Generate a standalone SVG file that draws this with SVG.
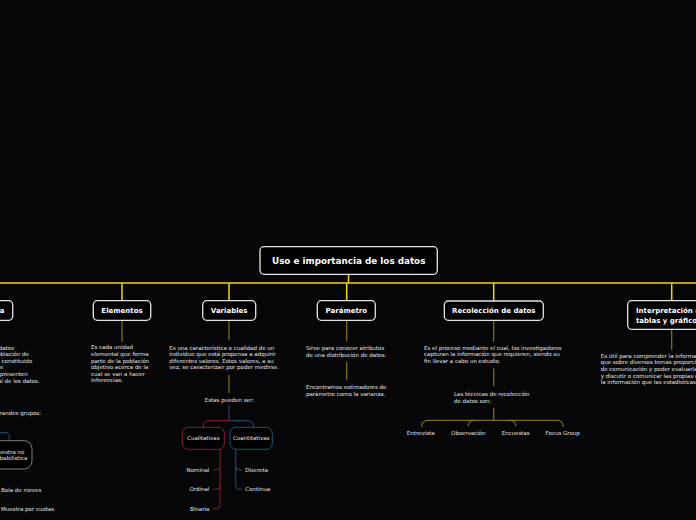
<svg xmlns="http://www.w3.org/2000/svg" width="696" height="520" viewBox="0 0 696 520">
<style>
.bg{fill:#060608}
.box{fill:#000;stroke:#e4e4e4;stroke-width:1.3}
.title{font-family:"DejaVu Sans",Verdana,sans-serif;font-weight:bold;fill:#fff;font-size:7px}
.t{font-family:"DejaVu Sans",Verdana,sans-serif;fill:#e6e6e6;font-size:5.5px}
.main{fill:none;stroke:#f2d40c;stroke-width:1.5}
.sec{fill:none;stroke:#87760f;stroke-width:1.2}
.red{fill:none;stroke:#8a1c30;stroke-width:1}
.blue{fill:none;stroke:#1f5577;stroke-width:1}
.c{text-anchor:middle}
.e{text-anchor:end}
</style>
<rect class="bg" x="0" y="0" width="696" height="520"/>
<g id="connectors">
<path class="main" d="M348.5 274.3 V283 M0 283 H696 M122 283 V300.7 M229 283 V300.7 M346.7 283 V300.7 M493.7 283 V301 M671.7 283 V300.7"/>
<path class="sec" d="M122 320.3 V342 M229 320.3 V340 M229 375 V393 M346.7 320.3 V341 M346.7 361.7 V380 M493.7 320.3 V341.7 M493.7 368.3 V386 M493.7 407.7 V420.3 M671.7 329.3 V350"/>
<path fill="none" stroke="#9a8612" stroke-width="1" d="M421.7 427 Q421.7 420.3 428 420.3 H557 Q563.3 420.3 563.3 427 M474.6 420.3 Q468.3 420.3 468.3 426 M509.4 420.3 Q515.7 420.3 515.7 426"/>
<path fill="none" stroke="#5b3768" stroke-width="1" d="M229 405 V420.7"/>
<path class="red" d="M229 420.7 H209 Q203.3 420.7 203.3 426 V427.3 M220 449.3 V505 Q220 509 216 509 H213 M220 466 Q220 470 216 470 H213 M220 485.3 Q220 489.3 216 489.3 H213"/>
<path class="blue" d="M229 420.7 H248 Q253.3 420.7 253.3 426 V427.3 M235.7 449.3 V485 Q235.7 489.3 239.7 489.3 H241.7 M235.7 466 Q235.7 470 239.7 470 H241.7"/>
<path class="blue" d="M-10 432.7 H5 Q9.3 432.7 9.3 437 V440.7"/>
</g>
<g id="root">
<rect class="box" x="260" y="246.7" width="177.3" height="27.6" rx="4"/>
<text class="title c" x="348.7" y="264" style="font-size:8.8px">Uso e importancia de los datos</text>
</g>
<g id="poblacion">
<rect class="box" x="-80" y="300.7" width="92.7" height="19.6" rx="4"/>
<text class="title e" x="4.5" y="313">Población y muestra</text>
<text class="t e" x="14" y="349.5">datos</text>
<text class="t e" x="29" y="356.1">población de</text>
<text class="t e" x="32" y="362.7">constituido</text>
<text class="t e" x="3.3" y="369.3">de</text>
<text class="t e" x="27.7" y="375.9">representen</text>
<text class="t e" x="39.7" y="382.5">total de los datos.</text>
<text class="t e" x="41" y="414.5">dos grandes grupos:</text>
</g>
<g id="muestra-no-probabilistica">
<rect x="-14" y="440.7" width="46" height="28.3" rx="8" fill="#000" stroke="#8a8a8a" stroke-width="0.9"/>
<text class="t c" x="9" y="453.5">Muestra no</text>
<text class="t c" x="9" y="460.1">probabilística</text>
<text class="t" x="1" y="491.7">Bola de nieves</text>
<text class="t" x="1" y="511">Muestra por cuotas</text>
</g>
<g id="elementos">
<rect class="box" x="93.3" y="300.7" width="57.4" height="19.6" rx="4"/>
<text class="title c" x="122" y="313">Elementos</text>
<text class="t" x="91" y="349.3">Es cada unidad</text>
<text class="t" x="91" y="355.9">elemental que forma</text>
<text class="t" x="91" y="362.5">parte de la población</text>
<text class="t" x="91" y="369.1">objetivo acerca de la</text>
<text class="t" x="91" y="375.7">cual se van a hacer</text>
<text class="t" x="91" y="382.3">inferencias.</text>
</g>
<g id="variables">
<rect class="box" x="202.7" y="300.7" width="53" height="19.6" rx="4"/>
<text class="title c" x="229.2" y="313">Variables</text>
<text class="t" x="169.3" y="349.5">Es una característica o cualidad de un</text>
<text class="t" x="169.3" y="356.1">individuo que está propensa a adquirir</text>
<text class="t" x="169.3" y="362.7">diferentes valores. Estos valores, a su</text>
<text class="t" x="169.3" y="369.3">vez, se caracterizan por poder medirse.</text>
<text class="t c" x="229.3" y="402">Estas pueden ser:</text>
</g>
<g id="cualitativas">
<rect x="182.3" y="427.3" width="42" height="22" rx="6" fill="#000" stroke="#8a1c30" stroke-width="1"/>
<text class="t c" x="203.3" y="440">Cualitativas</text>
<text class="t e" x="209.3" y="472">Nominal</text>
<text class="t e" x="209.3" y="491.3">Ordinal</text>
<text class="t e" x="209.3" y="511">Binaria</text>
</g>
<g id="cuantitativas">
<rect x="230" y="427.3" width="42.3" height="22" rx="6" fill="#000" stroke="#1f5577" stroke-width="1"/>
<text class="t c" x="251.2" y="440">Cuantitativas</text>
<text class="t" x="245.3" y="472">Discreta</text>
<text class="t" x="245.3" y="491.3">Continua</text>
</g>
<g id="parametro">
<rect class="box" x="317.3" y="300.7" width="58" height="19.6" rx="4"/>
<text class="title c" x="346.3" y="313">Parámetro</text>
<text class="t" x="306" y="350.2">Sirve para conocer atributos</text>
<text class="t" x="306" y="356.8">de una distribución de datos.</text>
<text class="t" x="306" y="389.2">Encontramos estimadores de</text>
<text class="t" x="306" y="395.8">parámetro como la varianza.</text>
</g>
<g id="recoleccion">
<rect class="box" x="444.3" y="301" width="99" height="19.3" rx="4"/>
<text class="title c" x="493.8" y="313">Recolección de datos</text>
<text class="t" x="424" y="349.6">Es el proceso mediante el cual, los investigadores</text>
<text class="t" x="424" y="356.2">capturan la información que requieren, siendo su</text>
<text class="t" x="424" y="362.8">fin llevar a cabo un estudio.</text>
<text class="t" x="454" y="396">Las técnicas de recolección</text>
<text class="t" x="454" y="402.6">de datos son:</text>
<text class="t c" x="420.7" y="435.3">Entrevista</text>
<text class="t c" x="468.3" y="435.3">Observación</text>
<text class="t c" x="515.7" y="435.3">Encuestas</text>
<text class="t c" x="562.7" y="435.3">Focus Group</text>
</g>
<g id="interpretacion">
<rect class="box" x="627.7" y="300.7" width="110" height="28.6" rx="4"/>
<text class="title" x="636" y="313.3">Interpretación de</text>
<text class="title" x="636" y="322.6">tablas y gráficos</text>
<text class="t" x="600.7" y="357.8">Es útil para comprender la información</text>
<text class="t" x="600.7" y="364.4">que sobre diversos temas proporcionan</text>
<text class="t" x="600.7" y="371">de comunicación y poder evaluarla</text>
<text class="t" x="600.7" y="377.6">y discutir o comunicar las propias opiniones</text>
<text class="t" x="600.7" y="384.2">la información que las estadísticas</text>
</g>
</svg>
